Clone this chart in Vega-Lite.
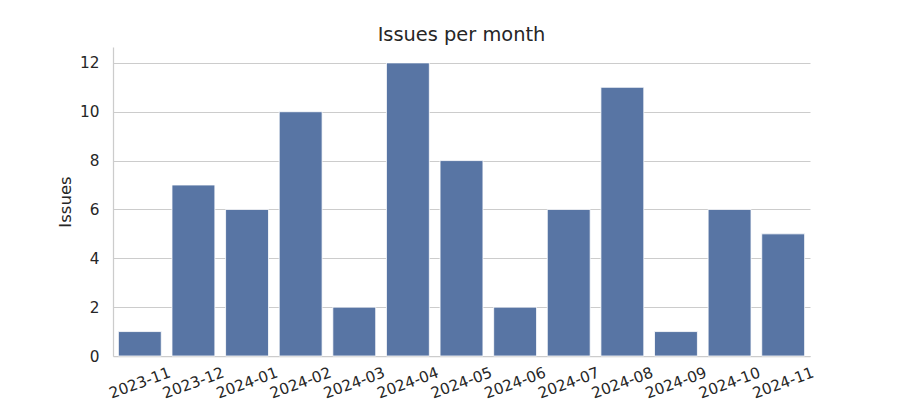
{
  "$schema": "https://vega.github.io/schema/vega-lite/v6.json",
  "width": 697,
  "height": 309,
  "autosize": {"type": "none"},
  "padding": {"left": 113, "top": 47, "right": 90, "bottom": 44},
  "background": "white",
  "title": {"text": "Issues per month", "fontSize": 19.4, "font": "DejaVu Sans", "fontWeight": "normal", "color": "#262626", "offset": 2, "anchor": "middle"},
  "data": {"values": [
    {"month": "2023-11", "issues": 1},
    {"month": "2023-12", "issues": 7},
    {"month": "2024-01", "issues": 6},
    {"month": "2024-02", "issues": 10},
    {"month": "2024-03", "issues": 2},
    {"month": "2024-04", "issues": 12},
    {"month": "2024-05", "issues": 8},
    {"month": "2024-06", "issues": 2},
    {"month": "2024-07", "issues": 6},
    {"month": "2024-08", "issues": 11},
    {"month": "2024-09", "issues": 1},
    {"month": "2024-10", "issues": 6},
    {"month": "2024-11", "issues": 5}
  ]},
  "mark": {"type": "bar", "color": "#5875a4", "stroke": "white", "strokeWidth": 0.8},
  "encoding": {
    "x": {"field": "month", "type": "nominal", "sort": null,
      "scale": {"paddingInner": 0.2, "paddingOuter": 0.1},
      "axis": {"title": null, "labelAngle": -20, "labelAlign": "center", "labelBaseline": "middle", "labelFontSize": 15.3, "labelFont": "DejaVu Sans", "labelColor": "#262626", "ticks": false, "labelPadding": 26.5, "labelOverlap": false, "domainColor": "#cccccc", "domainWidth": 1.25, "grid": false}},
    "y": {"field": "issues", "type": "quantitative",
      "scale": {"domain": [0, 12.65], "nice": false},
      "axis": {"title": "Issues", "titleFontSize": 16.5, "titleFont": "DejaVu Sans", "titleFontWeight": "normal", "titleColor": "#262626", "titlePadding": 6, "values": [0, 2, 4, 6, 8, 10, 12], "labelFontSize": 15.3, "labelFont": "DejaVu Sans", "labelColor": "#262626", "ticks": false, "labelPadding": 14, "domainColor": "#cccccc", "domainWidth": 1.25, "grid": true, "gridColor": "#cccccc", "gridWidth": 1}}
  },
  "config": {"view": {"stroke": null}}
}
